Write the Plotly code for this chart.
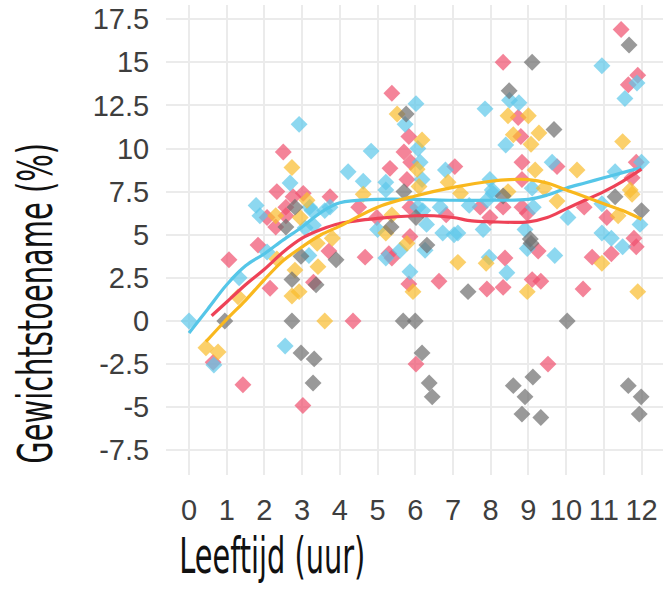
import plotly.graph_objects as go

# ---- data ----
cyan_x = [0, 0.66, 2.55, 2.92, 2.68, 1.78, 1.88, 3.2, 3.26, 3.6, 3.3, 3.08, 3.18, 2.07, 1.33, 6.02, 7.85, 5.73, 4.83, 6.07, 6.13, 4.22, 4.62, 5.22, 5.22, 6.8, 6.18, 7.98, 8.04, 6.66, 6.07, 6.2, 7.43, 7.9, 5.0, 6.3, 6.73, 7.03, 7.13, 7.8, 5.6, 6.26, 5.22, 7.96, 5.86, 3.74, 10.95, 11.88, 11.56, 8.5, 8.75, 8.4, 9.63, 12.0, 11.3, 8.06, 9.1, 9.13, 10.05, 10.95, 11.96, 8.91, 10.95, 11.2, 11.5, 8.97, 9.7, 8.43]
cyan_y = [0, -2.55, -1.45, 11.4, 8.0, 6.7, 6.1, 6.6, 6.4, 6.4, 5.55, 5.4, 3.8, 4.0, 2.5, 12.6, 12.3, 11.4, 9.85, 10.0, 9.2, 8.65, 8.1, 8.05, 7.6, 8.75, 8.2, 8.2, 7.6, 6.6, 6.6, 6.4, 6.7, 7.0, 5.3, 5.6, 5.1, 5.0, 5.1, 5.3, 4.1, 4.1, 3.65, 3.7, 2.85, 6.6, 14.8, 13.8, 12.9, 12.8, 12.65, 10.2, 9.2, 9.2, 8.65, 7.4, 7.7, 6.6, 6.0, 6.8, 5.6, 5.3, 5.1, 4.8, 4.3, 4.2, 3.8, 2.8]

red_x = [0.64, 1.43, 3.02, 2.15, 3.3, 1.06, 2.5, 2.33, 2.76, 3.03, 3.74, 2.57, 2.07, 2.57, 2.3, 1.83, 3.71, 4.5, 5.33, 5.83, 5.7, 5.88, 5.78, 7.05, 5.86, 4.98, 6.82, 7.72, 7.98, 5.86, 5.3, 5.38, 4.67, 6.63, 5.83, 7.9, 4.35, 6.02, 5.38, 8.33, 8.73, 8.8, 8.83, 8.83, 9.76, 8.33, 8.83, 8.97, 9.26, 8.38, 9.1, 9.33, 8.33, 10.45, 10.69, 11.2, 11.08, 10.48, 11.46, 11.9, 11.65, 11.86, 11.75, 11.8, 11.86, 9.52]
red_y = [-2.4, -3.7, -4.9, 1.9, 2.25, 3.55, 9.8, 7.5, 7.2, 7.4, 7.2, 6.6, 6.0, 6.1, 5.45, 4.4, 4.05, 6.6, 8.85, 10.7, 9.8, 9.2, 8.2, 8.95, 6.6, 6.0, 6.15, 6.6, 6.0, 4.9, 3.9, 3.65, 3.7, 2.3, 2.15, 1.85, 0, -2.5, 13.2, 15.0, 11.8, 10.7, 9.2, 8.2, 8.95, 6.6, 6.6, 6.25, 4.05, 3.65, 2.4, 2.3, 1.95, 1.85, 3.7, 3.9, 6.0, 6.6, 16.9, 14.25, 13.7, 9.2, 8.3, 4.8, 4.3, -2.5]

yellow_x = [0.45, 0.77, 1.3, 2.73, 2.92, 3.6, 2.73, 3.13, 2.3, 2.95, 3.8, 3.4, 2.81, 3.42, 2.33, 5.52, 6.18, 6.05, 6.1, 6.87, 4.62, 7.2, 5.38, 5.22, 5.78, 7.13, 7.88, 5.94, 8.46, 9.0, 8.6, 9.28, 9.07, 9.18, 10.29, 8.46, 9.42, 9.76, 11.5, 11.7, 11.75, 11.38, 10.95, 8.97, 11.9]
yellow_y = [-1.55, -1.8, 1.4, 1.45, 1.7, 0, 8.9, 7.0, 6.1, 6.0, 4.8, 4.5, 2.95, 3.15, 3.6, 12.0, 10.5, 8.8, 7.8, 8.05, 7.35, 7.4, 6.15, 5.1, 4.5, 3.4, 3.35, 1.7, 11.9, 11.9, 10.8, 10.9, 10.25, 8.75, 8.75, 7.5, 7.7, 6.95, 10.4, 7.6, 7.35, 6.1, 3.35, 1.7, 1.7]

gray_x = [0.95, 2.73, 2.97, 3.32, 3.29, 2.73, 3.37, 2.81, 2.57, 2.97, 3.9, 5.76, 5.7, 6.02, 5.36, 6.31, 7.4, 5.68, 6.0, 6.18, 6.37, 6.45, 9.1, 8.49, 9.68, 8.33, 9.05, 9.07, 11.67, 11.3, 12.0, 10.03, 9.12, 8.6, 8.91, 8.83, 9.33, 11.65, 11.99, 11.94]
gray_y = [0, 0, -1.85, -2.2, -3.6, 2.4, 2.1, 6.6, 5.45, 3.75, 3.55, 12.0, 7.5, 6.0, 5.45, 4.4, 1.7, 0, 0, -1.85, -3.6, -4.4, 15.0, 13.35, 11.1, 7.25, 4.75, 4.5, 16.0, 7.2, 6.4, 0, -3.25, -3.75, -4.4, -5.4, -5.6, -3.75, -4.4, -5.4]

# smoothed trend lines
cyan_line_x = [0, 0.5, 1, 1.5, 2, 2.5, 3, 3.5, 4, 5, 6, 7, 8, 9, 9.5, 10, 10.5, 11, 11.5, 12]
cyan_line_y = [-0.7, 0.7, 2.1, 3.2, 3.9, 4.7, 5.45, 6.3, 6.85, 7.05, 7.05, 7.0, 7.0, 7.05, 7.3, 7.7, 8.0, 8.3, 8.6, 8.9]
red_line_x = [0.6, 1, 1.5, 2, 2.5, 3, 3.5, 4, 5, 6, 6.5, 7, 7.5, 8, 9, 9.5, 10, 10.5, 11, 11.5, 12]
red_line_y = [0.3, 1.1, 2.1, 3.0, 4.0, 4.8, 5.3, 5.65, 5.95, 6.1, 6.1, 6.0, 5.8, 5.75, 5.75, 6.0, 6.5, 7.0, 7.5, 8.1, 8.8]
yellow_line_x = [0.45, 1, 1.5, 2, 2.5, 3, 3.5, 4, 5, 6, 7, 8, 8.5, 9, 9.5, 10, 10.5, 11, 11.5, 12]
yellow_line_y = [-1.2, 0.1, 1.2, 2.4, 3.5, 4.3, 5.0, 5.5, 6.6, 7.25, 7.75, 8.1, 8.2, 8.2, 8.0, 7.6, 7.2, 6.8, 6.4, 5.9]

x_ticks = list(range(0, 13))
y_ticks = [-7.5, -5, -2.5, 0, 2.5, 5, 7.5, 10, 12.5, 15, 17.5]
y_tick_labels = ["-7.5", "-5", "-2.5", "0", "2.5", "5", "7.5", "10", "12.5", "15", "17.5"]

RED = "#F0506E"
CYAN = "#5CC8EA"
YELLOW = "#F9BC2C"
GRAY = "#6E6E6E"

fig = go.Figure()

def pts(x, y, c):
    fig.add_trace(go.Scatter(x=x, y=y, mode="markers",
                             marker=dict(symbol="diamond", size=13, color=c, opacity=0.7,
                                         line=dict(width=0)),
                             hoverinfo="skip", showlegend=False))

pts(red_x, red_y, RED)
pts(cyan_x, cyan_y, CYAN)
pts(yellow_x, yellow_y, YELLOW)
pts(gray_x, gray_y, GRAY)

def ln(x, y, c):
    fig.add_trace(go.Scatter(x=x, y=y, mode="lines",
                             line=dict(color=c, width=3.2, shape="spline", smoothing=1),
                             hoverinfo="skip", showlegend=False))

ln(cyan_line_x, cyan_line_y, "#55C6E8")
ln(red_line_x, red_line_y, "#EE4257")
ln(yellow_line_x, yellow_line_y, "#F9B81E")

tick_font = dict(family="Liberation Sans, Arial, sans-serif", size=29, color="#3E3E3E")
title_font_x = dict(family="DejaVu Sans Condensed, sans-serif", size=50, color="#111111")
title_font_y = dict(family="DejaVu Sans Condensed, sans-serif", size=48, color="#111111")

fig.update_layout(
    width=664, height=597,
    margin=dict(l=166, r=1, t=5, b=122),
    paper_bgcolor="white", plot_bgcolor="white",
    xaxis=dict(range=[-0.61, 12.57], tickvals=x_ticks, ticktext=[str(v) for v in x_ticks],
               showgrid=True, gridcolor="#EBEBEB", gridwidth=1.5, zeroline=False,
               ticks="outside", ticklen=9, tickcolor="rgba(0,0,0,0)",
               tickfont=tick_font, showline=False),
    yaxis=dict(range=[-8.93, 18.32], tickvals=y_ticks, ticktext=y_tick_labels,
               showgrid=True, gridcolor="#EBEBEB", gridwidth=1.5, zeroline=False,
               ticks="outside", ticklen=10, tickcolor="rgba(0,0,0,0)",
               tickfont=tick_font, showline=False),
    annotations=[
        dict(text="Leeftijd (uur)", xref="paper", yref="paper", x=0.215, y=-0.172,
             xanchor="center", yanchor="middle", showarrow=False, font=title_font_x),
        dict(text="Gewichtstoename (%)", xref="paper", yref="paper", x=-0.263, y=0.365,
             xanchor="center", yanchor="middle", showarrow=False, textangle=-90, font=title_font_y),
    ],
)

post = """
document.body.style.margin='0';
function squeezeTitles(){
  document.querySelectorAll('.annotation-text').forEach(function(t){
    var s = t.textContent.indexOf('Leeftijd') >= 0 ? 0.64 : 0.67;
    t.style.transformBox = 'fill-box';
    t.style.transformOrigin = '50% 50%';
    t.style.transform = 'scaleX(' + s + ')';
  });
}
squeezeTitles();
var gd = document.getElementById('{plot_id}');
if (gd && gd.on) { gd.on('plotly_afterplot', squeezeTitles); }
"""

fig.write_html("out.html", post_script=post, config={"displayModeBar": False})
